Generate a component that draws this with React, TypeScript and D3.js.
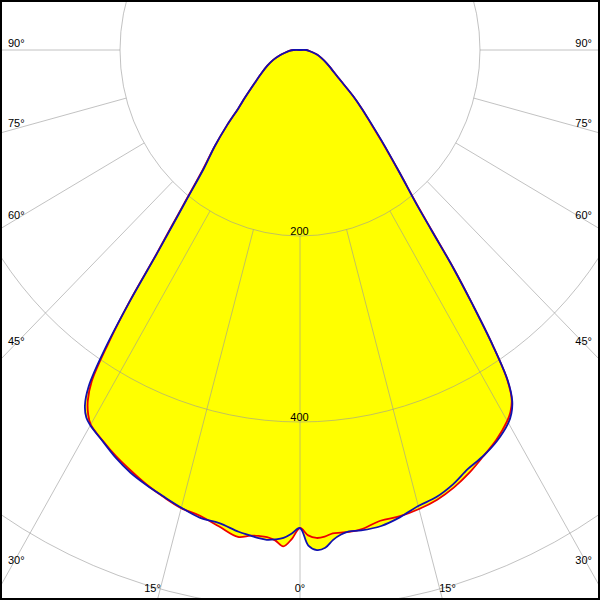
import React from 'react';
import * as d3 from 'd3';

// Gamma angles (degrees from nadir)
const gammaAngles = [0, 1, 2, 3, 4, 5, 6, 7.5, 10, 12.5, 15, 17.5, 20, 22.5, 25, 27.5, 30, 31, 32, 33, 34, 35, 36, 37, 38, 40, 42.5, 45, 47.5, 50, 55, 60, 65, 70, 75, 80, 85, 90, 180];

// Intensities (cd) – red plane, left / right half
const redLeft = [514, 526, 534, 528, 525, 524.5, 525, 528, 520, 513, 510, 504, 497.5, 490, 482.5, 474, 465, 457, 445, 425, 382, 330, 272, 236, 208, 168, 140, 115, 93, 80, 61, 49, 40, 32, 24, 17, 12, 7, 0];
const redRight = [514, 522, 525, 524, 521, 521, 521, 520, 514, 513.5, 511, 507, 500.5, 492, 482, 472.5, 460.5, 454, 444, 423, 383, 335, 291, 245, 212, 172, 137, 111, 93, 77, 52, 40, 32, 25.5, 20, 14, 10, 7, 0];

// Intensities (cd) – blue plane, left / right half
const blueLeft = [514, 520, 525, 527, 528, 527, 525, 522.5, 516.6, 515, 509.5, 503.5, 498, 492, 484, 474.5, 466, 461, 451, 431, 387, 329, 270, 233, 206, 166, 140, 115, 93, 80, 61, 49, 40, 32, 24, 17, 12, 7, 0];
const blueRight = [514, 533, 538, 536, 528, 523, 520.5, 521, 519.7, 514.5, 507.6, 504, 497, 487.6, 481.7, 474, 463, 456, 445, 424, 383, 335, 290, 243, 210, 172, 138, 112, 93, 77, 52, 40, 32, 25.5, 20, 14, 10, 7, 0];

// Grid
const gridCircleValues = [200, 400, 600];
const labeledCircleValues = [200, 400];
const rayAngles = [-90, -75, -60, -45, -30, -15, 0, 15, 30, 45, 60, 75, 90];

const W = 600;
const H = 600;
const CX = 300;
const CY = 50;
const FONT = "'Liberation Sans', Arial, sans-serif";

export default function App() {
  const rx = d3.scaleLinear().domain([0, 200]).range([0, 180]);
  const ry = d3.scaleLinear().domain([0, 200]).range([0, 186]);

  const pt = (deg: number, r: number): [number, number] => {
    const t = (deg * Math.PI) / 180;
    return [CX + rx(r) * Math.sin(t), CY + ry(r) * Math.cos(t)];
  };

  const curvePts = (left: number[], right: number[]) => {
    const pts: [number, number][] = [];
    for (let i = gammaAngles.length - 1; i >= 0; i--) pts.push(pt(-gammaAngles[i], left[i]));
    for (let i = 1; i < gammaAngles.length; i++) pts.push(pt(gammaAngles[i], right[i]));
    return pts;
  };

  const line = d3.line<[number, number]>().curve(d3.curveCatmullRom.alpha(0.5));
  const redPts = curvePts(redLeft, redRight);
  const bluePts = curvePts(blueLeft, blueRight);
  const redD = line(redPts) || '';
  const blueD = line(bluePts) || '';
  const redFill = redD + 'Z';
  const blueFill = blueD + 'Z';

  const rayYAtX = (a: number, x: number) => {
    const t = (a * Math.PI) / 180;
    const s = (x - CX) / (rx(1) * Math.sin(t));
    return CY + ry(1) * Math.cos(t) * s;
  };
  const rayXAtY = (a: number, y: number) => {
    const t = (a * Math.PI) / 180;
    const s = (y - CY) / (ry(1) * Math.cos(t));
    return CX + rx(1) * Math.sin(t) * s;
  };

  const labels = rayAngles.map((a) => {
    const text = `${Math.abs(a)}°`;
    const hitY = a === 0 ? Infinity : rayYAtX(a, a < 0 ? 0 : W);
    if (Math.abs(a) >= 90 || hitY < H) {
      const x = a < 0 ? 8 : W - 8;
      const y = rayYAtX(a, a < 0 ? 11 : W - 11) - 3.5;
      return { text, x, y, anchor: a < 0 ? 'start' : 'end' };
    }
    const lx = rayXAtY(a, 588);
    const x = lx + Math.sign(a) * 8;
    return { text, x, y: 592, anchor: 'middle' };
  });

  const gridStroke = '#999999';

  return (
    <svg
      width={W}
      height={H}
      viewBox={`0 0 ${W} ${H}`}
      style={{ position: 'absolute', left: 0, top: 0, display: 'block', background: '#fff' }}
    >
      <rect x={0} y={0} width={W} height={H} fill="#ffffff" />
      <path d={redFill} fill="#ffff00" stroke="none" />
      <path d={blueFill} fill="#ffff00" stroke="none" />
      <g stroke={gridStroke} strokeOpacity={0.6} fill="none" strokeWidth={1}>
        {gridCircleValues.map((c) => (
          <ellipse key={c} cx={CX} cy={CY} rx={rx(c)} ry={ry(c)} />
        ))}
        {rayAngles.map((a) => {
          const [x1, y1] = pt(a, 200);
          const [x2, y2] = pt(a, 1500);
          return <line key={a} x1={x1} y1={y1} x2={x2} y2={y2} />;
        })}
      </g>
      <path d={redD} fill="none" stroke="#ee0000" strokeWidth={1.8} strokeLinejoin="round" />
      <path d={blueD} fill="none" stroke="#1010b0" strokeWidth={1.8} strokeLinejoin="round" />
      <g fontFamily={FONT} fontSize={11} fill="#000">
        {labeledCircleValues.map((c) => (
          <text key={c} x={CX - 0.5} y={CY + ry(c) - 1.5} textAnchor="middle">
            {c}
          </text>
        ))}
        {labels.map((l, i) => (
          <text key={i} x={l.x} y={l.y} textAnchor={l.anchor as any}>
            {l.text}
          </text>
        ))}
      </g>
      <rect x={1} y={1} width={W - 2} height={H - 2} fill="none" stroke="#000" strokeWidth={2} />
    </svg>
  );
}
